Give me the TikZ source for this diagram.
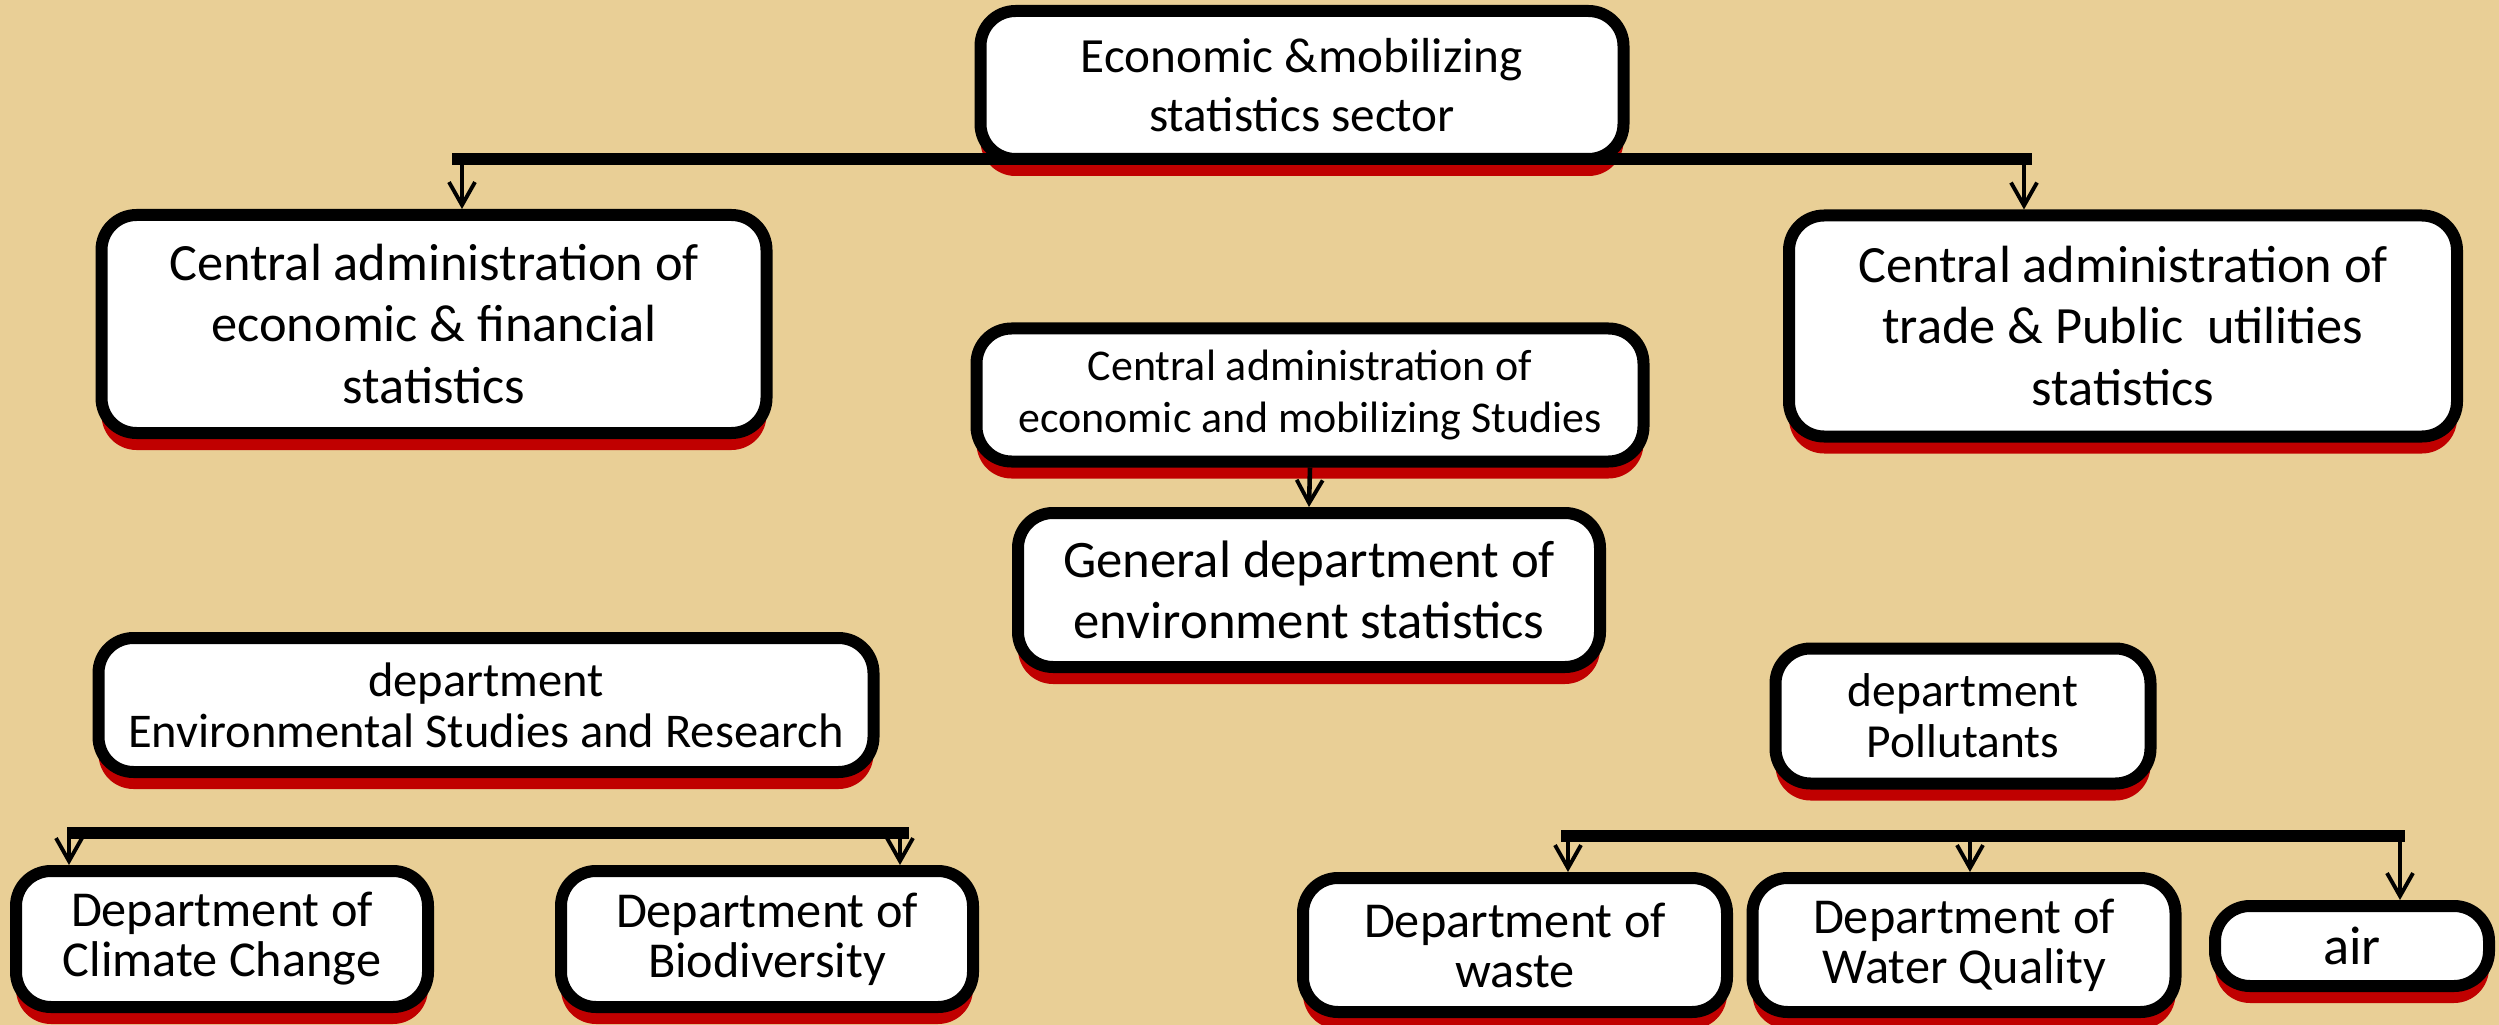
\documentclass[tikz,border=0pt]{standalone}
\usepackage{fontspec}
\setmainfont{Carlito}
\usepackage{tikz}
\usetikzlibrary{arrows.meta, shadows}

\definecolor{parchment}{RGB}{233,207,150}
\definecolor{shadowred}{RGB}{192,0,0}

\begin{document}
\begin{tikzpicture}[
        unit/.style={
            rectangle,
            rounded corners=0.35cm,
            draw=black,
            line width=0.12cm,
            fill=white,
            align=center,
            inner sep=1pt,
            general shadow={fill=shadowred, shadow yshift=-0.17cm}
        },
        big/.style={unit, font=\fontsize{14.9}{17.6}\selectfont},
        head/.style={unit, font=\fontsize{14}{16.8}\selectfont},
        mid/.style={unit, font=\fontsize{13.8}{14.5}\selectfont},
        small/.style={unit, font=\fontsize{12.5}{15}\selectfont},
        dept/.style={unit, font=\fontsize{14.3}{14.2}\selectfont},
        bar/.style={line width=0.115cm},
        drop/.style={
            line width=1.3pt,
            -{Straight Barb[length=2.3mm, width=2.6mm, line width=1.1pt]}
        }
    ]

    % Background
    \fill[parchment] (0,0) rectangle (24.99,-10.25);
    \useasboundingbox (0,0) rectangle (24.99,-10.25);

    % Nodes
    \node (sector) [head, minimum width=6.43cm, minimum height=1.48cm] at (13.02,-0.85)
        {Economic \&mobilizing\\statistics sector};
    \node (econ) [big, minimum width=6.65cm, minimum height=2.18cm] at (4.34,-3.24)
        {Central administration of\\economic \& financial\\statistics};
    \node (trade) [big, minimum width=6.68cm, minimum height=2.21cm] at (21.23,-3.26)
        {Central administration of\\trade \& Public\ \ utilities\\statistics};
    \node (studies) [small, minimum width=6.67cm, minimum height=1.33cm] at (13.10,-3.95)
        {Central administration of\\economic and mobilizing Studies};
    \node (envstat) [big, font=\fontsize{15}{17.2}\selectfont, minimum width=5.82cm, minimum height=1.54cm] at (13.09,-5.90)
        {General department of\\environment statistics};
    \node (research) [mid, minimum width=7.75cm, minimum height=1.34cm] at (4.86,-7.05)
        {department\\Environmental Studies and Research};
    \node (pollut) [mid, font=\fontsize{13.5}{14.5}\selectfont, minimum width=3.75cm, minimum height=1.35cm] at (19.63,-7.16)
        {department\\Pollutants};
    \node (climate) [dept, minimum width=4.12cm, minimum height=1.36cm] at (2.22,-9.39)
        {Department of\\Climate Change};
    \node (biodiv) [dept, minimum width=4.12cm, minimum height=1.36cm] at (7.67,-9.39)
        {Department of\\Biodiversity};
    \node (waste) [dept, minimum width=4.24cm, minimum height=1.34cm] at (15.15,-9.45)
        {Department of\\waste};
    \node (water) [dept, minimum width=4.23cm, minimum height=1.34cm] at (19.64,-9.45)
        {Department of\\Water Quality};
    \node (air) [dept, font=\fontsize{15.5}{16}\selectfont, minimum width=2.74cm, minimum height=0.80cm] at (23.52,-9.46)
        {air};

    % Bars
    \coordinate (topL) at (4.52,-1.59);
    \coordinate (topR) at (20.32,-1.59);
    \coordinate (envL) at (0.67,-8.33);
    \coordinate (envR) at (9.09,-8.33);
    \coordinate (polL) at (15.61,-8.36);
    \coordinate (polR) at (24.05,-8.36);
    \draw[bar] (topL) -- (topR);
    \draw[bar] (envL) -- (envR);
    \draw[bar] (polL) -- (polR);

    % Arrows
    \coordinate (toEcon) at (4.62,-1.59);
    \coordinate (toTrade) at (20.24,-1.59);
    \coordinate (toClimate) at (0.69,-8.33);
    \coordinate (toBiodiv) at (9.00,-8.33);
    \coordinate (toWaste) at (15.68,-8.36);
    \coordinate (toWater) at (19.70,-8.36);
    \coordinate (toAir) at (24.00,-8.36);
    \draw[drop] (toEcon) -- (toEcon |- econ.north);
    \draw[drop] (toTrade) -- (toTrade |- trade.north);
    \draw[drop] (studies.south) -- (envstat.north);
    \draw[drop] (toClimate) -- (toClimate |- climate.north);
    \draw[drop] (toBiodiv) -- (toBiodiv |- biodiv.north);
    \draw[drop] (toWaste) -- (toWaste |- waste.north);
    \draw[drop] (toWater) -- (toWater |- water.north);
    \draw[drop] (toAir) -- (toAir |- air.north);

\end{tikzpicture}
\end{document}
